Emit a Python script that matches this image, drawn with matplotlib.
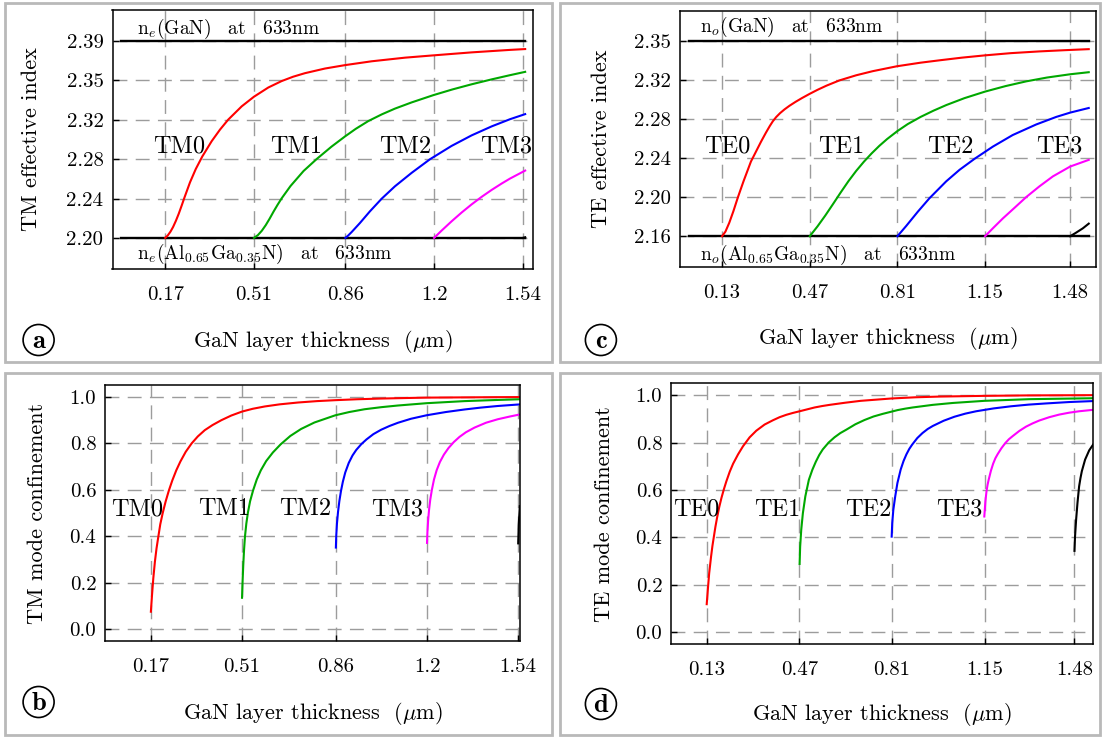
import matplotlib
matplotlib.use("Agg")
import matplotlib.pyplot as plt
from matplotlib.patches import Rectangle, Ellipse

# ----------------------------
# Data
# ----------------------------
# (a) TM effective index vs GaN thickness (um)
a_tm0_x = [0.170, 0.180, 0.190, 0.200, 0.211, 0.222, 0.233, 0.243, 0.265, 0.287, 0.312, 0.348,
           0.380, 0.411, 0.463, 0.510, 0.565, 0.616, 0.660, 0.705, 0.782, 0.859, 0.961, 1.089,
           1.197, 1.344, 1.491, 1.549]
a_tm0_n = [2.2000, 2.2025, 2.2060, 2.2105, 2.2166, 2.2235, 2.2312, 2.2385, 2.2537, 2.2665, 2.2786, 2.2934,
           2.3046, 2.3141, 2.3270, 2.3363, 2.3452, 2.3514, 2.3556, 2.3590, 2.3635, 2.3668, 2.3705, 2.3740,
           2.3762, 2.3791, 2.3815, 2.3823]
a_tm1_x = [0.510, 0.525, 0.540, 0.555, 0.570, 0.585, 0.600, 0.616, 0.650, 0.700, 0.750, 0.807,
           0.859, 0.900, 0.948, 1.000, 1.050, 1.114, 1.197, 1.270, 1.344, 1.420, 1.491, 1.549]
a_tm1_n = [2.2000, 2.2027, 2.2069, 2.2123, 2.2186, 2.2254, 2.2318, 2.2382, 2.2501, 2.2646, 2.2761, 2.2881,
           2.2980, 2.3053, 2.3128, 2.3193, 2.3248, 2.3308, 2.3378, 2.3433, 2.3483, 2.3530, 2.3571, 2.3603]
a_tm2_x = [0.860, 0.870, 0.884, 0.916, 0.954, 0.999, 1.050, 1.114, 1.184, 1.267, 1.344, 1.421, 1.491, 1.549]
a_tm2_n = [2.2000, 2.2021, 2.2056, 2.2144, 2.2256, 2.2378, 2.2498, 2.2628, 2.2759, 2.2888, 2.2990, 2.3077,
           2.3146, 2.3195]
a_tm3_x = [1.200, 1.229, 1.267, 1.306, 1.344, 1.382, 1.421, 1.459, 1.491, 1.549]
a_tm3_n = [2.2000, 2.2071, 2.2160, 2.2246, 2.2324, 2.2396, 2.2464, 2.2525, 2.2573, 2.2650]
a_tm4_x = [1.540, 1.549]
a_tm4_n = [2.2000, 2.2006]
a_line_x = [0.0, 1.55]
a_core_n = 2.39
a_clad_n = 2.20

# (c) TE effective index
c_te0_x = [0.130, 0.143, 0.158, 0.174, 0.191, 0.213, 0.242, 0.281, 0.300, 0.315, 0.327, 0.340,
           0.355, 0.372, 0.391, 0.415, 0.440, 0.469, 0.500, 0.535, 0.585, 0.650, 0.714, 0.808,
           0.900, 0.973, 1.060, 1.148, 1.250, 1.361, 1.460, 1.552]
c_te0_n = [2.1600, 2.1645, 2.1732, 2.1845, 2.1977, 2.2135, 2.2329, 2.2522, 2.2610, 2.2675, 2.2722, 2.2763,
           2.2801, 2.2837, 2.2872, 2.2911, 2.2948, 2.2988, 2.3028, 2.3069, 2.3120, 2.3170, 2.3210, 2.3258,
           2.3293, 2.3316, 2.3342, 2.3364, 2.3386, 2.3403, 2.3415, 2.3425]
c_te1_x = [0.470, 0.500, 0.530, 0.560, 0.590, 0.620, 0.650, 0.680, 0.710, 0.740, 0.770, 0.810,
           0.850, 0.900, 0.950, 1.000, 1.070, 1.150, 1.230, 1.310, 1.390, 1.480, 1.552]
c_te1_n = [2.1600, 2.1696, 2.1801, 2.1913, 2.2027, 2.2137, 2.2237, 2.2327, 2.2408, 2.2482, 2.2548, 2.2626,
           2.2694, 2.2764, 2.2825, 2.2880, 2.2947, 2.3011, 2.3065, 2.3111, 2.3148, 2.3180, 2.3200]
c_te2_x = [0.810, 0.844, 0.889, 0.934, 0.999, 1.051, 1.109, 1.180, 1.257, 1.348, 1.426, 1.480, 1.552]
c_te2_n = [2.1600, 2.1700, 2.1839, 2.1970, 2.2135, 2.2248, 2.2355, 2.2474, 2.2587, 2.2690, 2.2764, 2.2806, 2.2851]
c_te3_x = [1.150, 1.180, 1.219, 1.264, 1.309, 1.361, 1.413, 1.480, 1.552]
c_te3_n = [2.1600, 2.1677, 2.1774, 2.1877, 2.1981, 2.2087, 2.2184, 2.2280, 2.2345]
c_te4_x = [1.480, 1.503, 1.529, 1.552]
c_te4_n = [2.1600, 2.1635, 2.1677, 2.1723]
c_line_x = [0.0, 1.552]
c_core_n = 2.35
c_clad_n = 2.16

# (b) TM mode confinement
b_tm0_x = [0.170, 0.174, 0.179, 0.185, 0.191, 0.197, 0.205, 0.214, 0.225, 0.237, 0.250, 0.265,
           0.280, 0.300, 0.322, 0.345, 0.371, 0.400, 0.433, 0.470, 0.510, 0.550, 0.595, 0.650,
           0.719, 0.790, 0.858, 0.940, 1.029, 1.110, 1.198, 1.330, 1.464, 1.548]
b_tm0_c = [0.076, 0.144, 0.219, 0.291, 0.348, 0.393, 0.452, 0.500, 0.550, 0.597, 0.641, 0.685,
           0.722, 0.764, 0.800, 0.830, 0.857, 0.879, 0.900, 0.920, 0.937, 0.949, 0.959, 0.968,
           0.976, 0.982, 0.986, 0.990, 0.993, 0.995, 0.997, 0.998, 0.999, 0.9993]
b_tm1_x = [0.510, 0.512, 0.5145, 0.5175, 0.521, 0.526, 0.532, 0.540, 0.551, 0.565, 0.580, 0.600,
           0.625, 0.654, 0.690, 0.730, 0.780, 0.858, 0.910, 0.967, 1.030, 1.091, 1.198, 1.340,
           1.464, 1.548]
b_tm1_c = [0.136, 0.205, 0.275, 0.342, 0.400, 0.455, 0.503, 0.551, 0.597, 0.645, 0.684, 0.724,
           0.761, 0.796, 0.832, 0.862, 0.890, 0.921, 0.935, 0.947, 0.956, 0.963, 0.973, 0.982,
           0.987, 0.990]
b_tm2_x = [0.860, 0.8615, 0.864, 0.868, 0.873, 0.879, 0.886, 0.895, 0.908, 0.922, 0.936, 0.955,
           0.974, 1.000, 1.029, 1.060, 1.092, 1.140, 1.198, 1.270, 1.340, 1.400, 1.464, 1.548]
b_tm2_c = [0.352, 0.405, 0.455, 0.505, 0.552, 0.595, 0.635, 0.675, 0.716, 0.748, 0.772, 0.797,
           0.817, 0.840, 0.859, 0.875, 0.889, 0.906, 0.921, 0.935, 0.946, 0.954, 0.961, 0.968]
b_tm3_x = [1.200, 1.2015, 1.204, 1.2075, 1.212, 1.218, 1.226, 1.236, 1.248, 1.263, 1.280, 1.300,
           1.321, 1.345, 1.377, 1.420, 1.464, 1.510, 1.548]
b_tm3_c = [0.372, 0.420, 0.468, 0.514, 0.558, 0.600, 0.645, 0.685, 0.720, 0.752, 0.780, 0.806,
           0.828, 0.848, 0.868, 0.889, 0.904, 0.916, 0.925]
b_tm4_x = [1.540, 1.542, 1.546]
b_tm4_c = [0.370, 0.450, 0.530]

# (d) TE mode confinement
d_te0_x = [0.130, 0.134, 0.139, 0.146, 0.151, 0.156, 0.162, 0.168, 0.176, 0.184, 0.193, 0.202,
           0.2145, 0.227, 0.245, 0.263, 0.2875, 0.312, 0.3425, 0.373, 0.3975, 0.422, 0.4465, 0.471,
           0.4985, 0.526, 0.5535, 0.581, 0.638, 0.695, 0.752, 0.809, 0.8965, 0.984, 1.149, 1.314, 1.548]
d_te0_c = [0.118, 0.178, 0.248, 0.319, 0.364, 0.401, 0.445, 0.483, 0.528, 0.566, 0.603, 0.636,
           0.677, 0.711, 0.750, 0.784, 0.822, 0.850, 0.876, 0.894, 0.907, 0.917, 0.925, 0.932,
           0.940, 0.948, 0.954, 0.959, 0.968, 0.976, 0.981, 0.986, 0.991, 0.994, 0.997, 0.999, 1.000]
d_te1_x = [0.471, 0.473, 0.477, 0.483, 0.492, 0.505, 0.51775, 0.5305, 0.54325, 0.556, 0.5775, 0.599,
           0.6205, 0.642, 0.6755, 0.709, 0.7425, 0.776, 0.8035, 0.831, 0.8585, 0.886, 0.9595, 1.033,
           1.149, 1.314, 1.548]
d_te1_c = [0.288, 0.361, 0.432, 0.502, 0.573, 0.643, 0.685, 0.719, 0.748, 0.771, 0.800, 0.822,
           0.840, 0.854, 0.877, 0.895, 0.910, 0.921, 0.929, 0.937, 0.943, 0.948, 0.959, 0.967,
           0.976, 0.983, 0.987]
d_te2_x = [0.809, 0.811, 0.815, 0.822, 0.830, 0.842, 0.8525, 0.863, 0.8735, 0.884, 0.903, 0.922,
           0.941, 0.960, 0.99975, 1.0395, 1.07925, 1.119, 1.183, 1.247, 1.311, 1.375, 1.4615, 1.548]
d_te2_c = [0.403, 0.460, 0.516, 0.573, 0.629, 0.686, 0.722, 0.750, 0.773, 0.791, 0.819, 0.840,
           0.857, 0.870, 0.892, 0.909, 0.922, 0.932, 0.944, 0.953, 0.960, 0.965, 0.971, 0.975]
d_te3_x = [1.149, 1.153, 1.157, 1.161, 1.165, 1.17325, 1.1815, 1.18975, 1.198, 1.21175, 1.2255, 1.23925,
           1.253, 1.2775, 1.302, 1.3265, 1.351, 1.3875, 1.424, 1.4605, 1.497, 1.548]
d_te3_c = [0.488, 0.552, 0.594, 0.622, 0.643, 0.681, 0.711, 0.734, 0.751, 0.776, 0.797, 0.814,
           0.827, 0.849, 0.867, 0.881, 0.893, 0.907, 0.918, 0.926, 0.932, 0.938]
d_te4_x = [1.480, 1.482, 1.486, 1.491, 1.497, 1.502, 1.507, 1.519, 1.534, 1.550]
d_te4_c = [0.343, 0.403, 0.474, 0.545, 0.615, 0.650, 0.679, 0.728, 0.767, 0.794]

# tick values and labels
tm_xticks = [0.17, 0.51, 0.86, 1.20, 1.54]
tm_xlabels = ["0.17", "0.51", "0.86", "1.2", "1.54"]
te_xticks = [0.13, 0.47, 0.81, 1.15, 1.48]
te_xlabels = ["0.13", "0.47", "0.81", "1.15", "1.48"]
a_yticks = [2.20, 2.238, 2.276, 2.314, 2.352, 2.39]
a_ylabels = ["2.20", "2.24", "2.28", "2.32", "2.35", "2.39"]
c_yticks = [2.16, 2.198, 2.236, 2.274, 2.312, 2.35]
c_ylabels = ["2.16", "2.20", "2.24", "2.28", "2.32", "2.35"]
conf_yticks = [0.0, 0.2, 0.4, 0.6, 0.8, 1.0]
conf_ylabels = ["0.0", "0.2", "0.4", "0.6", "0.8", "1.0"]

mode_colors = ["#ff0000", "#00a800", "#0000ff", "#ff00ff", "black"]

# ----------------------------
# Style
# ----------------------------
plt.rcParams['font.family'] = 'cmr10'
plt.rcParams['mathtext.fontset'] = 'cm'
plt.rcParams['axes.unicode_minus'] = False
plt.rcParams['axes.formatter.use_mathtext'] = True

W, H = 1102, 738
fig = plt.figure(figsize=(W / 100, H / 100), dpi=100)


def px_axes(l, t, r, b):
    return fig.add_axes([l / W, 1 - b / H, (r - l) / W, (b - t) / H])


def style_axes(ax, xticks, xlabels, yticks, ylabels, ylabel, ylab_x, xlab_y):
    ax.set_xticks(xticks)
    ax.set_xticklabels(xlabels)
    ax.set_yticks(yticks)
    ax.set_yticklabels(ylabels)
    ax.tick_params(direction='in', length=4, width=1, labelsize=15)
    ax.tick_params(axis='x', pad=12)
    ax.tick_params(axis='y', pad=6.5)
    ax.grid(True, color='#9c9c9c', linestyle=(0, (10, 6)), linewidth=1.0)
    ax.set_axisbelow(True)
    for sp in ax.spines.values():
        sp.set_linewidth(1.1)
    ax.set_xlabel(r'GaN layer thickness  ($\mu$m)', fontsize=16)
    ax.xaxis.set_label_coords(0.5, xlab_y)
    ax.xaxis.label.set_va('center')
    ax.set_ylabel(ylabel, fontsize=16)
    ax.yaxis.set_label_coords(ylab_x, 0.5)
    ax.yaxis.label.set_va('center')


# ----------------------------
# Panel borders and letters
# ----------------------------
for (x0, y0, x1, y1) in [(5, 2.5, 551.5, 362), (560, 2.5, 1100, 362),
                         (5, 373, 551.5, 735), (560, 373, 1100, 735)]:
    fig.add_artist(Rectangle((x0 / W, 1 - y1 / H), (x1 - x0) / W, (y1 - y0) / H,
                             transform=fig.transFigure, fill=False,
                             edgecolor='#b9b9b9', linewidth=2.0))

for letter, (cx, cy) in zip("abcd", [(38.6, 340), (38.6, 702), (600.9, 340), (600.9, 704)]):
    fig.add_artist(Ellipse((cx / W, 1 - cy / H), 31 / W, 31 / H, transform=fig.transFigure,
                           fill=False, edgecolor='black', linewidth=1.2))
    fig.text(cx / W, 1 - (cy + 1) / H, letter, family='cmb10', fontsize=19,
             ha='center', va='center')

# ----------------------------
# (a) TM effective index
# ----------------------------
ax = px_axes(112.5, 10, 533, 269)
ax.plot(a_line_x, [a_core_n, a_core_n], color='black', lw=1.7)
ax.plot(a_line_x, [a_clad_n, a_clad_n], color='black', lw=1.7)
for (xs, ys), col in zip([(a_tm0_x, a_tm0_n), (a_tm1_x, a_tm1_n), (a_tm2_x, a_tm2_n),
                          (a_tm3_x, a_tm3_n), (a_tm4_x, a_tm4_n)], mode_colors):
    ax.plot(xs, ys, color=col, lw=1.5)
ax.set_xlim(-0.032, 1.579)
ax.set_ylim(2.17, 2.42)
style_axes(ax, tm_xticks, tm_xlabels, a_yticks, a_ylabels, 'TM effective index', -0.193, -0.281)
ax.text(0.058, 0.928, r'n$_e$(GaN)$\quad$at$\quad$633nm', transform=ax.transAxes,
        fontsize=14, ha='left', va='center')
ax.text(0.058, 0.057, r'n$_e$(Al$_{0.65}$Ga$_{0.35}$N)$\quad$at$\quad$633nm', transform=ax.transAxes,
        fontsize=14, ha='left', va='center')
for lab, xp in zip(["TM0", "TM1", "TM2", "TM3"], [0.2225, 0.671, 1.091, 1.475]):
    ax.text(xp, 2.288, lab, fontsize=17.5, ha='center', va='center')

# ----------------------------
# (c) TE effective index
# ----------------------------
ax = px_axes(680.3, 10.7, 1095.7, 267)
ax.plot(c_line_x, [c_core_n, c_core_n], color='black', lw=1.7)
ax.plot(c_line_x, [c_clad_n, c_clad_n], color='black', lw=1.7)
for (xs, ys), col in zip([(c_te0_x, c_te0_n), (c_te1_x, c_te1_n), (c_te2_x, c_te2_n),
                          (c_te3_x, c_te3_n), (c_te4_x, c_te4_n)], mode_colors):
    ax.plot(xs, ys, color=col, lw=1.5)
ax.set_xlim(-0.032, 1.579)
ax.set_ylim(2.13, 2.38)
style_axes(ax, te_xticks, te_xlabels, c_yticks, c_ylabels, 'TE effective index', -0.19, -0.278)
ax.text(0.047, 0.936, r'n$_o$(GaN)$\quad$at$\quad$633nm', transform=ax.transAxes,
        fontsize=14, ha='left', va='center')
ax.text(0.047, 0.049, r'n$_o$(Al$_{0.65}$Ga$_{0.35}$N)$\quad$at$\quad$633nm', transform=ax.transAxes,
        fontsize=14, ha='left', va='center')
for lab, xp in zip(["TE0", "TE1", "TE2", "TE3"], [0.152, 0.592, 1.014, 1.437]):
    ax.text(xp, 2.2475, lab, fontsize=17.5, ha='center', va='center')

# ----------------------------
# (b) TM mode confinement
# ----------------------------
ax = px_axes(105.3, 385.3, 519.8, 641)
for (xs, ys), col in zip([(b_tm0_x, b_tm0_c), (b_tm1_x, b_tm1_c), (b_tm2_x, b_tm2_c),
                          (b_tm3_x, b_tm3_c), (b_tm4_x, b_tm4_c)], mode_colors):
    ax.plot(xs, ys, color=col, lw=1.5)
ax.set_xlim(0.0, 1.546)
ax.set_ylim(-0.05, 1.05)
style_axes(ax, tm_xticks, tm_xlabels, conf_yticks, conf_ylabels, 'TM mode confinement', -0.165, -0.282)
for lab, xp in zip(["TM0", "TM1", "TM2", "TM3"], [0.12, 0.443, 0.746, 1.088]):
    ax.text(xp, 0.516, lab, fontsize=17.5, ha='center', va='center')

# ----------------------------
# (d) TE mode confinement
# ----------------------------
ax = px_axes(671.3, 383.3, 1093, 644)
for (xs, ys), col in zip([(d_te0_x, d_te0_c), (d_te1_x, d_te1_c), (d_te2_x, d_te2_c),
                          (d_te3_x, d_te3_c), (d_te4_x, d_te4_c)], mode_colors):
    ax.plot(xs, ys, color=col, lw=1.5)
ax.set_xlim(0.0, 1.548)
ax.set_ylim(-0.05, 1.05)
style_axes(ax, te_xticks, te_xlabels, conf_yticks, conf_ylabels, 'TE mode confinement', -0.159, -0.271)
for lab, xp in zip(["TE0", "TE1", "TE2", "TE3"], [0.092, 0.388, 0.722, 1.057]):
    ax.text(xp, 0.516, lab, fontsize=17.5, ha='center', va='center')

fig.savefig("out.png", dpi=100)
